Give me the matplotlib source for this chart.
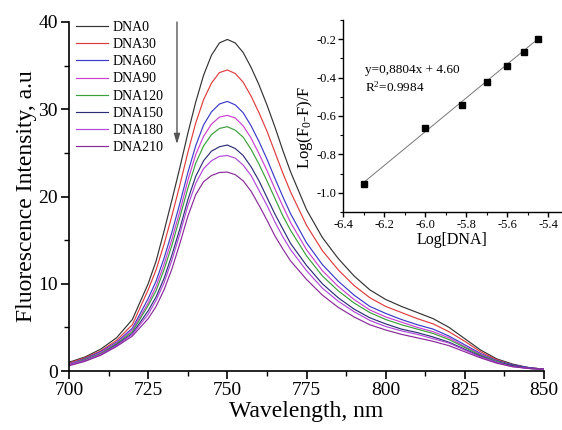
import numpy as np
import matplotlib
matplotlib.use("Agg")
import matplotlib.pyplot as plt
from matplotlib.ticker import MultipleLocator

plt.rcParams['font.family'] = ['Liberation Serif', 'DejaVu Serif']
plt.rcParams['mathtext.fontset'] = 'custom'
plt.rcParams['mathtext.rm'] = 'Liberation Serif'
plt.rcParams['mathtext.it'] = 'Liberation Serif:italic'

# ---------------- data ----------------
wavelength = [700, 705, 710, 715, 720, 725, 727.5, 730, 732.5, 735, 737.5, 740, 742.5, 745, 747.5,
              750, 752.5, 755, 757.5, 760, 762.5, 765, 767.5, 770, 775, 780, 785, 790, 795, 800,
              805, 810, 815, 820, 825, 830, 835, 840, 845, 850]

dna0 = [1.0, 1.6, 2.5, 3.8, 5.9, 10.0, 12.6, 16.0, 19.6, 23.3, 27.2, 30.8, 33.9, 36.2, 37.6, 38.0,
        37.6, 36.5, 34.8, 32.8, 30.5, 28.0, 25.3, 22.8, 18.5, 15.3, 12.9, 10.9, 9.3, 8.2, 7.4, 6.7,
        6.0, 5.0, 3.7, 2.4, 1.4, 0.8, 0.4, 0.2]
dna30 = [0.9, 1.5, 2.3, 3.5, 5.3, 9.3, 11.6, 14.5, 17.8, 21.3, 25.0, 28.4, 31.1, 33.0, 34.2, 34.5,
         34.1, 33.1, 31.5, 29.6, 27.5, 25.1, 22.7, 20.5, 16.7, 13.8, 11.6, 9.8, 8.4, 7.4, 6.7, 6.0,
         5.4, 4.5, 3.4, 2.2, 1.3, 0.7, 0.4, 0.2]
dna60 = [0.8, 1.4, 2.2, 3.3, 4.9, 8.3, 10.3, 12.9, 15.9, 19.2, 22.7, 25.8, 28.2, 29.7, 30.6, 30.9,
         30.5, 29.6, 28.1, 26.3, 24.3, 22.1, 20.0, 18.0, 14.7, 12.2, 10.3, 8.7, 7.4, 6.6, 5.9, 5.3,
         4.8, 4.0, 3.0, 2.0, 1.2, 0.7, 0.4, 0.2]
dna90 = [0.8, 1.3, 2.1, 3.2, 4.7, 7.8, 9.7, 12.2, 15.1, 18.3, 21.8, 24.8, 26.9, 28.3, 29.1, 29.3,
         29.0, 28.1, 26.7, 24.9, 23.0, 20.9, 18.9, 17.0, 13.9, 11.5, 9.7, 8.2, 7.0, 6.2, 5.6, 5.0,
         4.5, 3.8, 2.8, 1.9, 1.1, 0.6, 0.3, 0.2]
dna120 = [0.7, 1.3, 2.0, 3.1, 4.5, 7.5, 9.2, 11.6, 14.4, 17.6, 20.9, 23.8, 25.8, 27.1, 27.8, 28.0,
          27.6, 26.8, 25.4, 23.7, 21.8, 19.8, 17.8, 16.1, 13.2, 10.9, 9.2, 7.8, 6.7, 5.9, 5.3, 4.8,
          4.3, 3.6, 2.7, 1.8, 1.1, 0.6, 0.3, 0.2]
dna150 = [0.7, 1.2, 1.9, 3.0, 4.3, 6.9, 8.5, 10.6, 13.3, 16.3, 19.6, 22.3, 24.1, 25.2, 25.7, 25.9,
          25.5, 24.7, 23.4, 21.8, 19.9, 18.0, 16.3, 14.6, 12.1, 10.0, 8.4, 7.1, 6.1, 5.4, 4.8, 4.4,
          3.9, 3.3, 2.5, 1.7, 1.0, 0.6, 0.3, 0.2]
dna180 = [0.7, 1.2, 1.9, 2.9, 4.2, 6.5, 8.1, 10.1, 12.7, 15.7, 18.9, 21.5, 23.2, 24.1, 24.6, 24.7,
          24.4, 23.6, 22.4, 20.7, 19.0, 17.1, 15.4, 13.9, 11.5, 9.5, 8.0, 6.8, 5.8, 5.1, 4.6, 4.2,
          3.7, 3.2, 2.4, 1.6, 1.0, 0.5, 0.3, 0.2]
dna210 = [0.6, 1.1, 1.8, 2.8, 4.0, 6.0, 7.4, 9.3, 11.7, 14.6, 17.7, 20.2, 21.7, 22.4, 22.75, 22.8,
          22.5, 21.8, 20.6, 19.0, 17.3, 15.5, 14.0, 12.6, 10.5, 8.7, 7.3, 6.2, 5.3, 4.7, 4.2, 3.8,
          3.4, 2.9, 2.2, 1.5, 0.9, 0.5, 0.3, 0.2]

series_labels = ['DNA0', 'DNA30', 'DNA60', 'DNA90', 'DNA120', 'DNA150', 'DNA180', 'DNA210']
series_values = [dna0, dna30, dna60, dna90, dna120, dna150, dna180, dna210]
series_colors = ['#333333', '#e03c3c', '#3a3ac8', '#cc40d0', '#3aa03a', '#2e2e78', '#b048d8', '#8a2a9a']

log_dna = [-6.30, -6.00, -5.82, -5.70, -5.60, -5.52, -5.45]
log_quench = [-0.955, -0.665, -0.542, -0.425, -0.338, -0.267, -0.198]
fit_slope = 0.8804
fit_intercept = 4.60

# ---------------- figure ----------------
W, H = 562, 430
fig = plt.figure(figsize=(W / 100, H / 100), dpi=100)

ax = fig.add_axes([69 / W, 1 - 371 / H, 475 / W, 349 / H])
for lab, vals, col in zip(series_labels, series_values, series_colors):
    ax.plot(wavelength, vals, color=col, lw=0.85, label=lab)

ax.set_xlim(700, 850)
ax.set_ylim(0, 40)
ax.xaxis.set_major_locator(MultipleLocator(25))
ax.xaxis.set_minor_locator(MultipleLocator(12.5))
ax.yaxis.set_major_locator(MultipleLocator(10))
ax.yaxis.set_minor_locator(MultipleLocator(5))
for s in ['top', 'right']:
    ax.spines[s].set_visible(False)
for s in ['left', 'bottom']:
    ax.spines[s].set_linewidth(1.2)
ax.tick_params(which='major', direction='out', length=6, width=1.2, labelsize=14, pad=2)
ax.tick_params(which='minor', direction='out', length=3.5, width=1.0)
ax.set_xlabel('Wavelength, nm', fontsize=17, labelpad=1)
ax.set_ylabel('Fluorescence Intensity, a.u', fontsize=17, labelpad=1)

leg = ax.legend(loc='upper left', bbox_to_anchor=(76 / W, 1 - 21 / H),
                bbox_transform=fig.transFigure, frameon=False, fontsize=10,
                handlelength=2.3, handletextpad=0.35, labelspacing=0.30,
                borderpad=0, borderaxespad=0)

ax.annotate('', xy=(734.1, 26.0), xytext=(734.1, 40.0),
            arrowprops=dict(arrowstyle='-|>,head_length=0.6,head_width=0.18',
                            color='#555555', lw=1.0, shrinkA=0, shrinkB=0))

# ---------------- inset ----------------
ins = fig.add_axes([343 / W, 1 - 212 / H, (W - 343) / W, 192 / H])
fx = np.array([log_dna[0], log_dna[-1]])
ins.plot(fx, fit_slope * fx + fit_intercept, color='#777777', lw=0.7)
ins.plot(log_dna, log_quench, 's', color='black', ms=5, lw=0)
ins.set_xlim(-6.4, -5.333)
ins.set_ylim(-1.1, -0.1)
ins.xaxis.set_major_locator(MultipleLocator(0.2))
ins.xaxis.set_minor_locator(MultipleLocator(0.1))
ins.yaxis.set_major_locator(MultipleLocator(0.2))
ins.yaxis.set_minor_locator(MultipleLocator(0.1))
ins.xaxis.set_major_formatter(plt.FuncFormatter(lambda v, p: f'{v:.1f}'))
ins.yaxis.set_major_formatter(plt.FuncFormatter(lambda v, p: f'{v:.1f}'))
for s in ['top', 'right']:
    ins.spines[s].set_visible(False)
for s in ['left', 'bottom']:
    ins.spines[s].set_linewidth(1.0)
ins.tick_params(which='major', direction='out', length=3.5, width=1.0, labelsize=9, pad=1.5)
ins.tick_params(which='minor', direction='out', length=2.2, width=0.8)
ins.set_xlabel('Log[DNA]', fontsize=11.5, labelpad=1)
ins.set_ylabel('Log(F$_0$-F)/F', fontsize=12)
ins.yaxis.set_label_coords(-0.13, 0.443)
ins.patch.set_alpha(0)

fig.text(365 / W, 1 - 70 / H, 'y=0,8804x + 4.60', fontsize=9.5, va='center', ha='left')
fig.text(365 / W, 1 - 87 / H, 'R$^2$=0.9984', fontsize=9.5, va='center', ha='left')

fig.savefig('out.png', dpi=100)
